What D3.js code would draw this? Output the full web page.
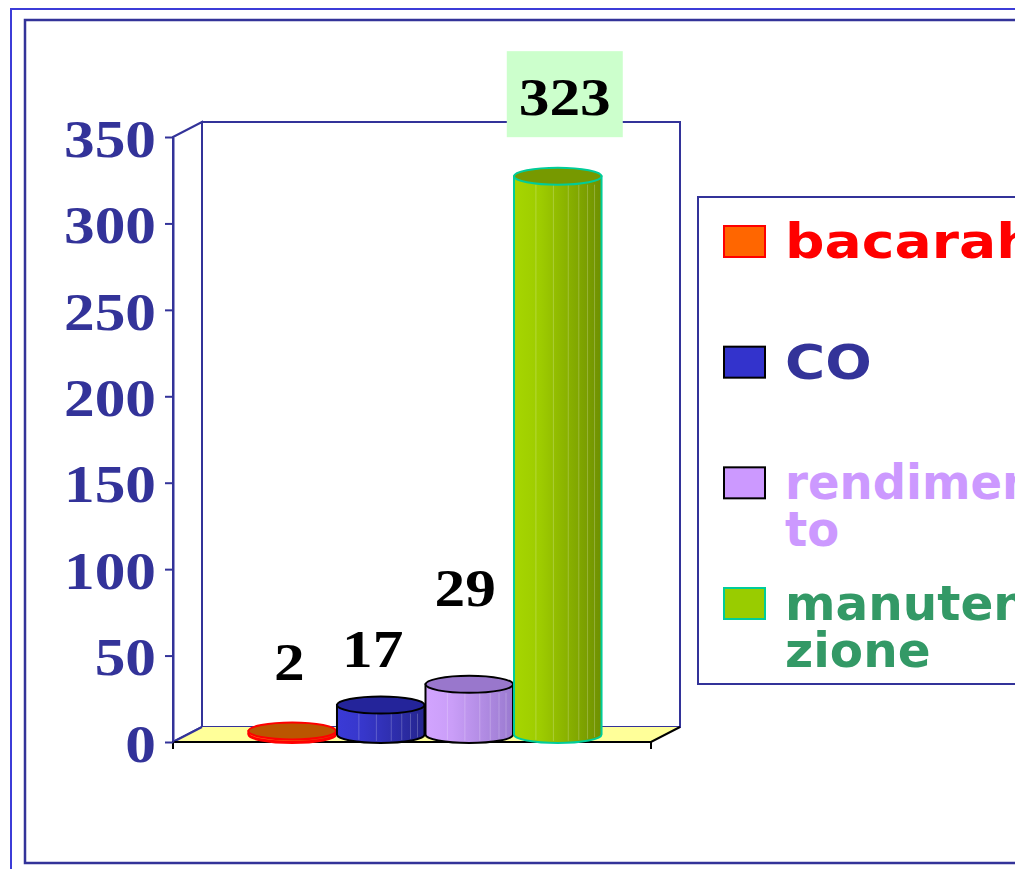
<!DOCTYPE html>
<html>
<head>
<meta charset="utf-8">
<script src="https://cdn.jsdelivr.net/npm/d3@7"></script>
<style>
  body { margin: 0; background: #fff; }
  svg { display: block; }
</style>
</head>
<body>
<div id="chart"></div>
<script>
/* global d3 */
// data
var categories = ["bacarah", "CO", "rendimento", "manutenzione"];
var values = [2, 17, 29, 323];
var legendLines = [["bacarah"], ["CO"], ["rendimen", "to"], ["manuten", "zione"]];
var yTicks = [0, 50, 100, 150, 200, 250, 300, 350];

// styles
var sideLight = ["#ff7a1a", "#3a3ad6", "#d2a4ff", "#a6d600"],
  sideDark = ["#cc4a00", "#25258f", "#9a7ad0", "#6f9000"],
  topFill = ["#bb5500", "#24249a", "#9977cc", "#779900"],
  barStroke = ["#ff0000", "#000000", "#000000", "#00cc99"],
  swatchFill = ["#ff6600", "#3333cc", "#cc99ff", "#99cc00"],
  textFill = ["#ff0000", "#333399", "#cc99ff", "#339966"],
  legendStretch = [1.15, 1.14, 0.97, 1.01],
  labelBg = [null, null, null, "#ccffcc"],
  labelDx = [-3, -8, -4, 7],
  labelDy = [-51, -38, -78, -61];

var W = 1015, H = 869,
  blue = "#333399",
  x0 = 173, x1 = 651,       // front edge of the floor
  depthX = 29, depthY = -15; // 3d offset of the back wall

var svg = d3.select("#chart").append("svg")
  .attr("width", W).attr("height", H);

var defs = svg.append("defs");

// frames
svg.append("rect")
  .attr("x", 11).attr("y", 9).attr("width", 1100).attr("height", 900)
  .attr("fill", "none").attr("stroke", "#3c3cd8").attr("stroke-width", 2);
svg.append("rect")
  .attr("x", 25).attr("y", 20).attr("width", 1100).attr("height", 843)
  .attr("fill", "none").attr("stroke", blue).attr("stroke-width", 2.5);

var y = d3.scaleLinear().domain([0, 350]).range([742, 137]);
var y0 = y(0), yTop = y(350);

// bars sit at mid depth
var x = d3.scaleBand().domain(categories)
  .range([x0 + depthX / 2 - 1.5, x1 + depthX / 2 - 1.5])
  .paddingInner(0).paddingOuter(0.7);

// walls
svg.append("rect")
  .attr("x", x0 + depthX).attr("y", yTop + depthY)
  .attr("width", x1 - x0).attr("height", y0 - yTop)
  .attr("fill", "#fff").attr("stroke", blue).attr("stroke-width", 2);
svg.append("path")
  .attr("d", "M" + x0 + "," + yTop + "L" + (x0 + depthX) + "," + (yTop + depthY) +
    "L" + (x0 + depthX) + "," + (y0 + depthY) + "L" + x0 + "," + y0 + "Z")
  .attr("fill", "#fff").attr("stroke", blue).attr("stroke-width", 2);

// floor
svg.append("path")
  .attr("d", "M" + x0 + "," + y0 + "L" + x1 + "," + y0 + "L" + (x1 + depthX) + "," + (y0 + depthY) +
    "L" + (x0 + depthX) + "," + (y0 + depthY) + "Z")
  .attr("fill", "#ffff99").attr("stroke", "none");
svg.append("path")
  .attr("d", "M" + (x0 + depthX) + "," + (y0 + depthY) + "L" + x0 + "," + y0)
  .attr("stroke", blue).attr("stroke-width", 2);
svg.append("path")
  .attr("d", "M" + x0 + "," + (y0 + 7) + "L" + x0 + "," + y0 + "L" + x1 + "," + y0 +
    "L" + (x1 + depthX) + "," + (y0 + depthY) + "M" + x1 + "," + y0 + "L" + x1 + "," + (y0 + 7))
  .attr("fill", "none").attr("stroke", "#000").attr("stroke-width", 2);

// axis
var axisG = svg.append("g")
  .attr("transform", "translate(" + x0 + ",0)")
  .call(d3.axisLeft(y).tickValues(yTicks).tickSize(8).tickSizeOuter(0));
axisG.select(".domain").attr("stroke", blue).attr("stroke-width", 2);
axisG.selectAll(".tick line").attr("stroke", blue).attr("stroke-width", 2);
axisG.selectAll(".tick text")
  .attr("x", -17 / 1.18)
  .attr("dy", "0.37em")
  .attr("transform", "scale(1.18,1)")
  .attr("fill", blue)
  .style("font-family", "'Liberation Serif', 'Times New Roman', serif")
  .style("font-weight", "bold")
  .style("font-size", "52px");

// cylinders
var rx = x.bandwidth() / 2 - 0.5, ry = 8.5;

categories.forEach(function (c, i) {
  var g = defs.append("linearGradient").attr("id", "side" + i)
    .attr("x1", 0).attr("x2", 1).attr("y1", 0).attr("y2", 0);
  g.append("stop").attr("offset", 0).attr("stop-color", sideLight[i]);
  g.append("stop").attr("offset", 0.3).attr("stop-color", d3.interpolateRgb(sideLight[i], sideDark[i])(0.15));
  g.append("stop").attr("offset", 1).attr("stop-color", sideDark[i]);
});

var bars = svg.append("g").attr("class", "bars")
  .selectAll("g").data(values).enter().append("g");

bars.each(function (v, i) {
  var gBar = d3.select(this);
  var cx = x(categories[i]) + x.bandwidth() / 2,
    cyBase = y(0) + depthY / 2,
    cyTop = y(v) + depthY / 2;

  gBar.append("path")
    .attr("d", "M" + (cx - rx) + "," + cyTop + "L" + (cx - rx) + "," + cyBase +
      "A" + rx + "," + ry + " 0 0 0 " + (cx + rx) + "," + cyBase +
      "L" + (cx + rx) + "," + cyTop + "Z")
    .attr("fill", "url(#side" + i + ")")
    .attr("stroke", barStroke[i]).attr("stroke-width", 2);

  // faint vertical facets
  if (cyBase - cyTop > 6) {
    gBar.selectAll("line.facet")
      .data([0.25, 0.45, 0.62, 0.74, 0.84, 0.92])
      .enter().append("line")
      .attr("class", "facet")
      .attr("x1", function (f) { return cx - rx + f * 2 * rx; })
      .attr("x2", function (f) { return cx - rx + f * 2 * rx; })
      .attr("y1", cyTop + ry)
      .attr("y2", function (f) {
        var t = (f * 2 * rx - rx) / rx;
        return cyBase + ry * Math.sqrt(Math.max(0, 1 - t * t)) - 2;
      })
      .attr("stroke", "#ffffff").attr("stroke-opacity", 0.22).attr("stroke-width", 1);
  }

  if (i === 0) {
    gBar.append("ellipse")
      .attr("cx", cx).attr("cy", cyTop + 2.5).attr("rx", rx).attr("ry", ry)
      .attr("fill", "none").attr("stroke", barStroke[i]).attr("stroke-width", 2);
  }
  gBar.append("ellipse")
    .attr("cx", cx).attr("cy", cyTop).attr("rx", rx).attr("ry", ry)
    .attr("fill", topFill[i])
    .attr("stroke", barStroke[i]).attr("stroke-width", 2);
});

// value labels
var labelFont = "'Liberation Serif', 'Times New Roman', serif";
values.forEach(function (v, i) {
  var lx = x(categories[i]) + x.bandwidth() / 2 + labelDx[i],
    ly = y(v) + depthY / 2 + labelDy[i];
  if (labelBg[i]) {
    svg.append("rect")
      .attr("x", lx - 58).attr("y", ly - 64)
      .attr("width", 116).attr("height", 86)
      .attr("fill", labelBg[i]);
  }
  svg.append("text")
    .attr("transform", "translate(" + lx + "," + ly + ") scale(1.18,1)")
    .attr("text-anchor", "middle")
    .attr("fill", "#000")
    .style("font-family", labelFont)
    .style("font-weight", "bold")
    .style("font-size", "52px")
    .text(v);
});

// legend
var legend = svg.append("g").attr("class", "legend");
legend.append("rect")
  .attr("x", 698).attr("y", 197).attr("width", 400).attr("height", 487)
  .attr("fill", "#fff").attr("stroke", blue).attr("stroke-width", 2);

var rowY = d3.scalePoint().domain(categories).range([226, 588]);

var rows = legend.selectAll("g.row").data(categories).enter()
  .append("g").attr("class", "row");

rows.append("rect")
  .attr("x", 724).attr("y", function (d) { return rowY(d); })
  .attr("width", 41).attr("height", 31)
  .attr("fill", function (d, i) { return swatchFill[i]; })
  .attr("stroke", function (d, i) { return barStroke[i]; })
  .attr("stroke-width", 2);

rows.each(function (d, i) {
  var row = d3.select(this);
  legendLines[i].forEach(function (line, j) {
    row.append("text")
      .attr("transform", "translate(785," + (rowY(d) + 32 + j * 47) + ") scale(" + legendStretch[i] + ",1)")
      .attr("fill", textFill[i])
      .style("font-family", "'DejaVu Sans', Verdana, sans-serif")
      .style("font-weight", "bold")
      .style("font-size", "48px")
      .text(line);
  });
});
</script>
</body>
</html>
